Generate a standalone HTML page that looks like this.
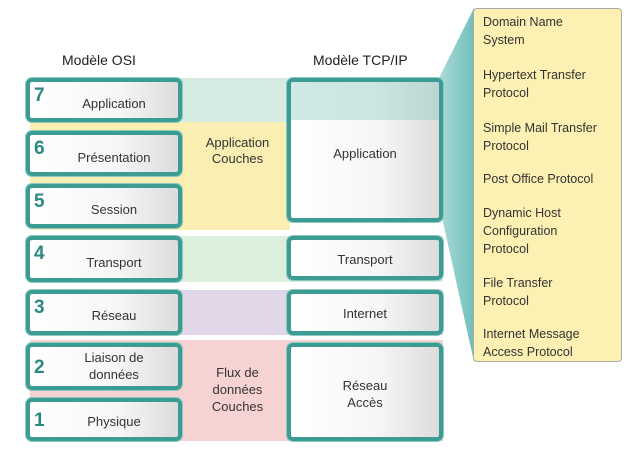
<!DOCTYPE html>
<html><head><meta charset="utf-8"><style>
body{margin:0;width:635px;height:461px;background:#fff;position:relative;overflow:hidden;font-family:"Liberation Sans",sans-serif;color:#333}
.a{position:absolute}
.box{position:absolute;box-sizing:border-box;border:4px solid #3c9b92;border-radius:6px;background:linear-gradient(90deg,#fff 0%,#f6f6f6 60%,#dcdcdc 100%);box-shadow:0 0 0 1px #8cc9c2}
.n{position:absolute;left:4px;top:3px;font-weight:bold;font-size:19px;color:#2a8a80}
.t{position:absolute;left:0;right:0;text-align:center;font-size:13px;color:#333}
.h{position:absolute;font-size:14px;color:#222}
.c{position:absolute;left:483px;font-size:12.5px;color:#333;line-height:18px}
</style></head><body>
<div class="a" style="left:30px;top:78px;width:413px;height:44px;background:#d6ece2"></div>
<div class="a" style="left:30px;top:122px;width:260px;height:108px;background:#fbeeb3"></div>
<div class="a" style="left:30px;top:236px;width:413px;height:46px;background:#dcefdd"></div>
<div class="a" style="left:30px;top:290px;width:413px;height:45px;background:#e2d7e8"></div>
<div class="a" style="left:30px;top:340px;width:413px;height:101px;background:#f7d2d3"></div>
<svg class="a" style="left:0;top:0" width="635" height="461"><defs><linearGradient id="g" x1="0" x2="1"><stop offset="0" stop-color="#5fb8b2" stop-opacity=".5"/><stop offset="1" stop-color="#5fb8b2" stop-opacity=".9"/></linearGradient></defs>
<polygon points="438,80 474,8 474,362 443,222" fill="url(#g)"/></svg>
<div class="a" style="left:473px;top:8px;width:149px;height:354px;box-sizing:border-box;background:#fdf0b3;border:1px solid #aaa;border-radius:4px"></div>
<div class="c" style="top:13px">Domain Name<br>System</div>
<div class="c" style="top:66px">Hypertext Transfer<br>Protocol</div>
<div class="c" style="top:119px">Simple Mail Transfer<br>Protocol</div>
<div class="c" style="top:170px">Post Office Protocol</div>
<div class="c" style="top:204px">Dynamic Host<br>Configuration<br>Protocol</div>
<div class="c" style="top:274px">File Transfer<br>Protocol</div>
<div class="c" style="top:325px">Internet Message<br>Access Protocol</div>
<div class="h" style="left:62px;top:52px">Modèle OSI</div>
<div class="h" style="left:313px;top:52px">Modèle TCP/IP</div>
<div class="box" style="left:26px;top:78px;width:156px;height:44px"><span class="n">7</span><div class="t" style="top:14px;left:20px">Application</div></div>
<div class="box" style="left:26px;top:131px;width:156px;height:45px"><span class="n">6</span><div class="t" style="top:15px;left:20px">Présentation</div></div>
<div class="box" style="left:26px;top:184px;width:156px;height:44px"><span class="n">5</span><div class="t" style="top:14px;left:20px">Session</div></div>
<div class="box" style="left:26px;top:236px;width:156px;height:46px"><span class="n">4</span><div class="t" style="top:15px;left:20px">Transport</div></div>
<div class="box" style="left:26px;top:290px;width:156px;height:45px"><span class="n">3</span><div class="t" style="top:14px;left:20px">Réseau</div></div>
<div class="box" style="left:26px;top:343px;width:156px;height:47px"><span class="n" style="top:10px">2</span><div class="t" style="top:2px;left:20px;line-height:17px">Liaison de<br>données</div></div>
<div class="box" style="left:26px;top:398px;width:156px;height:43px"><span class="n" style="top:8px">1</span><div class="t" style="top:12px;left:20px">Physique</div></div>
<div class="a" style="left:190px;top:135px;width:95px;text-align:center;font-size:13px;line-height:16px">Application<br>Couches</div>
<div class="a" style="left:190px;top:364px;width:95px;text-align:center;font-size:13px;line-height:17px">Flux de<br>données<br>Couches</div>
<div class="box" style="left:287px;top:78px;width:156px;height:144px"><div class="t" style="top:64px">Application</div></div>
<div class="a" style="left:291px;top:82px;width:148px;height:38px;background:rgba(150,205,200,.45)"></div>
<div class="box" style="left:287px;top:236px;width:156px;height:44px"><div class="t" style="top:12px">Transport</div></div>
<div class="box" style="left:287px;top:290px;width:156px;height:45px"><div class="t" style="top:12px">Internet</div></div>
<div class="box" style="left:287px;top:343px;width:156px;height:98px"><div class="t" style="top:30px;line-height:17px">Réseau<br>Accès</div></div>
</body></html>
